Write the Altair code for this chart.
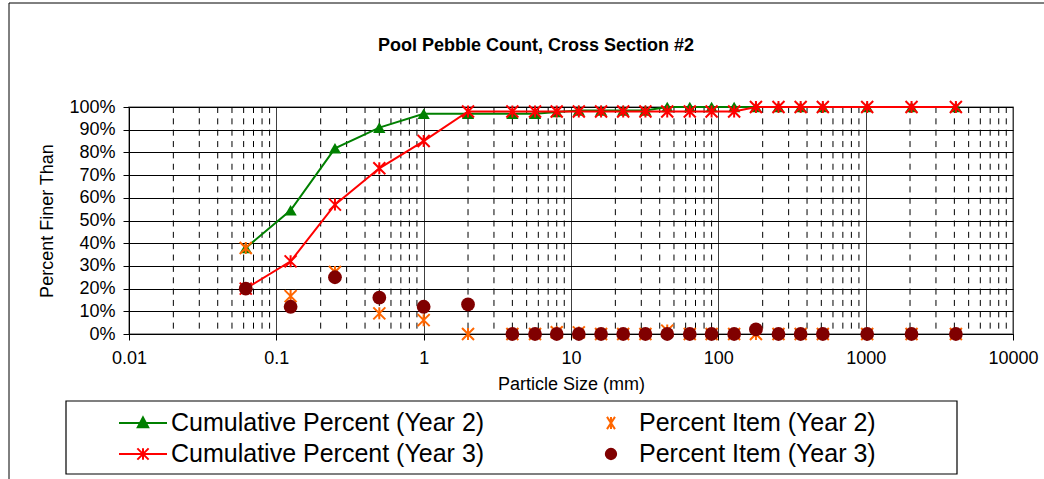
import altair as alt
import pandas as pd

# Sieve classes (mm) and percentages for the pool pebble count
sizes = [0.062, 0.125, 0.25, 0.5, 1, 2, 4, 5.7, 8, 11.3, 16, 22.6, 32, 45,
         64, 90, 128, 180, 256, 362, 512, 1024, 2048, 4096]
cum_y2 = [37.9, 54.5, 81.8, 90.9, 97.0, 97.0, 97.0, 97.0, 97.8, 98.5, 98.5, 98.5,
          98.5, 100, 100, 100, 100, 100, 100, 100, 100, 100, 100, 100]
item_y2 = [37.9, 16.7, 27.3, 9.1, 6.1, 0, 0, 0, 0.8, 0.7, 0, 0, 0, 1.5,
           0, 0, 0, 0, 0, 0, 0, 0, 0, 0]
cum_y3 = [20, 32, 57, 73, 85, 98, 98, 98, 98, 98, 98, 98, 98, 98,
          98, 98, 98, 100, 100, 100, 100, 100, 100, 100]
item_y3 = [20, 12, 25, 16, 12, 13, 0, 0, 0, 0, 0, 0, 0, 0,
           0, 0, 0, 2, 0, 0, 0, 0, 0, 0]

# legend entries, listed column by column
series_names = ["Cumulative Percent (Year 2)", "Cumulative Percent (Year 3)",
                "Percent Item (Year 2)", "Percent Item (Year 3)"]
series_colors = ["#008000", "#FF0000", "#FF6600", "#800000"]

x_ticks = [0.01, 0.1, 1, 10, 100, 1000, 10000]
x_minor = [m * d for d in x_ticks[:-1] for m in range(2, 10)]
y_ticks = list(range(0, 101, 10))

TITLE = "Pool Pebble Count,  Cross Section #2"
FONT = "Liberation Sans"
ASTERISK = "M-1,-1L1,1M-1,1L1,-1M0,-1L0,1"


def series(values):
    return pd.DataFrame({"size": sizes, "pct": values})


x_enc = alt.X(
    "size:Q",
    title="Particle Size (mm)",
    scale=alt.Scale(type="log", domain=[0.01, 10000]),
    axis=alt.Axis(values=x_ticks, format="~g", grid=True, gridColor="#404040",
                  gridWidth=1, tickColor="black", tickSize=6, domainColor="black",
                  labelFont=FONT, labelFontSize=18, labelColor="black",
                  labelPadding=9, labelFlush=False, labelOverlap=False,
                  titleFont=FONT, titleFontSize=18, titleFontWeight="normal",
                  titleColor="black", titlePadding=8),
)
y_enc = alt.Y(
    "pct:Q",
    title="Percent Finer Than",
    scale=alt.Scale(domain=[0, 100]),
    axis=alt.Axis(values=y_ticks, labelExpr="datum.value + '%'", grid=True,
                  gridColor="black", gridWidth=1, tickColor="black", tickSize=6,
                  domainColor="black", labelFont=FONT, labelFontSize=18,
                  labelColor="black", labelPadding=8, labelFlush=False,
                  titleFont=FONT, titleFontSize=18, titleFontWeight="normal",
                  titleColor="black", titlePadding=12),
)

one_row = pd.DataFrame({"k": [0]})

# outer chart border
frame = alt.Chart(one_row).mark_rect(
    fillOpacity=0, stroke="black", strokeWidth=1
).encode(x=alt.value(-120), x2=alt.value(2000), y=alt.value(-104), y2=alt.value(1000))

# legend box
legend_box = alt.Chart(one_row).mark_rect(
    fill="white", stroke="black", strokeWidth=1.2
).encode(x=alt.value(-63), x2=alt.value(828), y=alt.value(294), y2=alt.value(367))

title = alt.Chart(one_row).mark_text(
    text=TITLE, font=FONT, fontSize=18, fontWeight="bold", color="black",
    align="center", baseline="middle"
).encode(x=alt.value(407), y=alt.value(-61))

# dashed minor gridlines at 2..9 of every decade
minor = alt.Chart(pd.DataFrame({"size": x_minor})).mark_rule(
    color="black", strokeWidth=1, strokeDash=[6, 5.35]
).encode(x=x_enc)

cum2_line = alt.Chart(series(cum_y2)).mark_line(color="#008000", strokeWidth=2).encode(x=x_enc, y=y_enc)
cum2_pts = alt.Chart(series(cum_y2)).mark_point(
    shape="triangle-up", filled=True, color="#008000", size=150, opacity=1
).encode(x=x_enc, y=y_enc)
cum3_line = alt.Chart(series(cum_y3)).mark_line(color="#FF0000", strokeWidth=2).encode(x=x_enc, y=y_enc)
cum3_pts = alt.Chart(series(cum_y3)).mark_point(
    shape=ASTERISK, filled=False, color="#FF0000", strokeWidth=2, size=144, opacity=1
).encode(x=x_enc, y=y_enc)
item2_pts = alt.Chart(series(item_y2)).mark_point(
    shape=ASTERISK, filled=False, color="#FF6600", strokeWidth=2, size=144, opacity=1
).encode(x=x_enc, y=y_enc)
item3_pts = alt.Chart(series(item_y3)).mark_point(
    shape="circle", filled=True, color="#800000", size=190, opacity=1
).encode(x=x_enc, y=y_enc)

# legend symbols: line with marker, or marker alone, drawn in a wide symbol cell
legend_paths = [
    "M-0.021,0L1,0M0.489,-0.12L0.6,0.09L0.378,0.09Z",
    "M-0.021,0L1,0M0.369,-0.12L0.609,0.12M0.369,0.12L0.609,-0.12M0.489,-0.12L0.489,0.12",
    "M0.404,-0.13L0.574,0.13M0.404,0.13L0.574,-0.13M0.489,-0.13L0.489,0.13",
    "M0.379,0A0.11,0.11 0 1,1 0.599,0A0.11,0.11 0 1,1 0.379,0Z",
]
leg = alt.Legend(
    title=None, orient="none", legendX=-63, legendY=295, columns=2,
    columnPadding=55, rowPadding=1, padding=6,
    symbolSize=94 * 94, symbolStrokeWidth=2, symbolOpacity=1,
    clipHeight=30, labelFont=FONT, labelFontSize=25, labelColor="black",
    labelLimit=1000, labelOffset=3,
)
legend_layer = alt.Chart(pd.DataFrame({"series": series_names})).transform_filter(
    "false"
).mark_point(filled=True, opacity=1, strokeWidth=2).encode(
    shape=alt.Shape("series:N", scale=alt.Scale(domain=series_names, range=legend_paths), legend=leg),
    fill=alt.Fill("series:N", scale=alt.Scale(domain=series_names, range=series_colors), legend=leg),
    stroke=alt.Stroke("series:N", scale=alt.Scale(domain=series_names, range=series_colors), legend=leg),
)

chart = alt.layer(
    frame, legend_box, title, minor, cum2_line, cum2_pts, cum3_line, cum3_pts,
    item2_pts, item3_pts, legend_layer
).properties(
    width=884, height=227,
    padding={"left": 129, "top": 107, "right": 31, "bottom": 145},
    autosize=alt.AutoSizeParams(type="none"),
    background="white",
).configure_view(
    fill="#C0C0C0", stroke="#808080", strokeWidth=1.5
)

chart.save("out.html", embed_options={"renderer": "svg", "actions": False})
